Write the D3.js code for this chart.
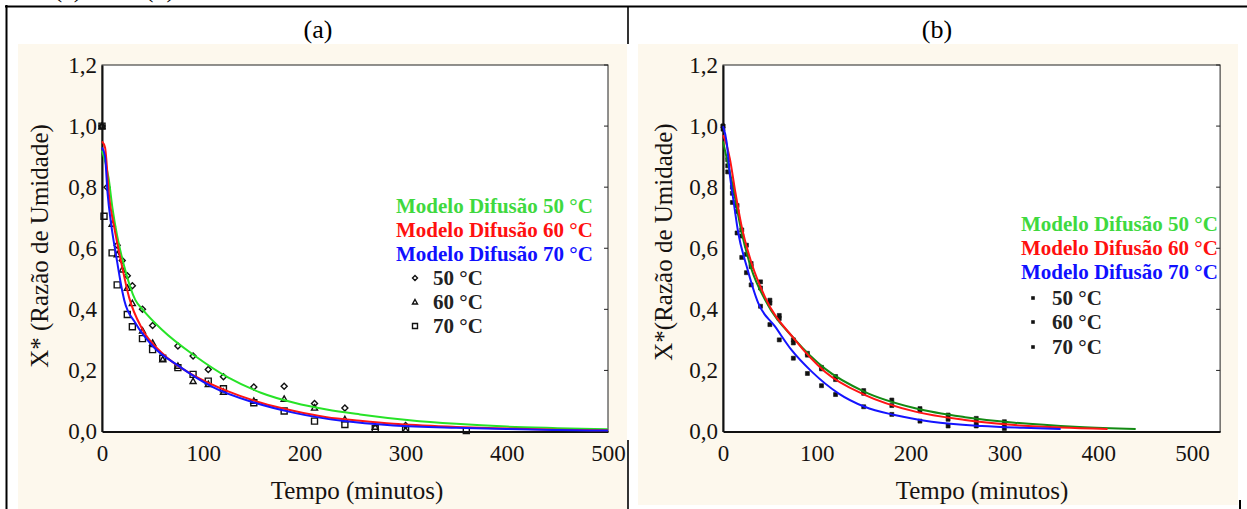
<!DOCTYPE html>
<html>
<head>
<meta charset="utf-8">
<script src="https://cdn.jsdelivr.net/npm/d3@7/dist/d3.min.js"></script>
<style>
  html, body { margin: 0; padding: 0; background: #fff; }
  svg { display: block; }
  text { font-family: "Liberation Serif", "Times New Roman", serif; }
</style>
</head>
<body>
<script>
// ---- Drying kinetics: moisture ratio X* vs time, two experiments (a) and (b) ----

const xTicks = [0, 100, 200, 300, 400, 500];
const yTicks = [0, 0.2, 0.4, 0.6, 0.8, 1.0, 1.2];
const temps = ["50 °C", "60 °C", "70 °C"];
const modelLabels = ["Modelo Difusão 50 °C", "Modelo Difusão 60 °C", "Modelo Difusão 70 °C"];

// (a) diffusion model curves [time (min), X*]
const aModel50 = [[0,0.92],[6.5,0.83],[10.4,0.73],[15,0.64],[22,0.54],[33,0.43],[40,0.40],[59,0.334],[92,0.247],[125,0.176],[157,0.127],[190,0.094],[222,0.072],[255,0.056],[304,0.037],[350,0.025],[400,0.016],[450,0.011],[500,0.007]];
const aModel60 = [[0,0.95],[3,0.93],[7,0.77],[12,0.67],[18.6,0.56],[26.7,0.44],[40,0.334],[59,0.258],[92,0.181],[124,0.132],[157,0.094],[190,0.067],[222,0.047],[255,0.035],[288,0.025],[350,0.015],[400,0.010],[450,0.006],[500,0.004]];
const aModel70 = [[0,0.93],[3,0.90],[5.5,0.78],[9,0.68],[14,0.575],[20,0.46],[22,0.43],[33,0.355],[50,0.28],[76,0.214],[108,0.148],[151,0.094],[190,0.061],[239,0.034],[288,0.02],[350,0.012],[400,0.008],[450,0.005],[500,0.003]];

// (a) measured points [time (min), X*]
const aObs50 = [[0,1.0],[5,0.80],[15,0.61],[20,0.56],[25,0.51],[30,0.477],[40,0.40],[50,0.347],[75,0.28],[90,0.247],[105,0.203],[120,0.179],[150,0.146],[180,0.148],[210,0.092],[240,0.077],[300,0.02]];
const aObs60 = [[0,1.0],[10,0.68],[15,0.58],[20,0.53],[25,0.47],[30,0.42],[40,0.33],[50,0.29],[60,0.236],[75,0.215],[90,0.165],[105,0.155],[120,0.13],[150,0.10],[180,0.107],[210,0.078],[240,0.04],[270,0.015],[300,0.005]];
const aObs70 = [[0,1.0],[2,0.705],[10,0.585],[15,0.48],[25,0.383],[30,0.343],[40,0.304],[50,0.268],[60,0.24],[75,0.209],[90,0.187],[105,0.165],[120,0.14],[150,0.094],[180,0.067],[210,0.034],[240,0.023],[270,0.009],[300,0.007],[360,0.003]];

// (b) diffusion model curves
const bModel50 = [[0,0.95],[5,0.88],[10,0.81],[20,0.65],[30,0.535],[45,0.43],[77,0.30],[109,0.205],[151,0.13],[205,0.076],[258,0.047],[311,0.029],[380,0.015],[440,0.008]];
const bModel60 = [[0,0.97],[2,0.956],[7.5,0.89],[12.8,0.79],[20,0.67],[30.6,0.55],[44.8,0.44],[76.8,0.30],[108.7,0.196],[151,0.12],[205,0.065],[258,0.038],[311,0.021],[360,0.013],[410,0.008]];
const bModel70 = [[0,1.0],[4,0.945],[7.5,0.835],[11,0.76],[16.3,0.65],[25.3,0.54],[37.6,0.42],[55.4,0.344],[73,0.267],[94.6,0.196],[123,0.125],[151,0.081],[183,0.054],[222.5,0.032],[276,0.018],[320,0.012],[360,0.008]];

// (b) measured points
const bObs50 = [[0,1.0],[5,0.87],[10,0.80],[15,0.72],[20,0.64],[25,0.58],[30,0.54],[40,0.47],[50,0.42],[60,0.38],[75,0.30],[90,0.256],[105,0.21],[120,0.18],[150,0.134],[180,0.103],[210,0.075],[240,0.054],[270,0.043],[300,0.032]];
const bObs60 = [[0,1.0],[5,0.89],[10,0.78],[15,0.74],[20,0.66],[25,0.61],[30,0.55],[40,0.49],[50,0.43],[60,0.37],[75,0.29],[90,0.25],[105,0.205],[120,0.17],[150,0.125],[180,0.085],[210,0.068],[240,0.04],[270,0.03],[300,0.02]];
const bObs70 = [[0,0.99],[5,0.85],[10,0.75],[15,0.65],[20,0.57],[25,0.52],[30,0.48],[40,0.41],[50,0.35],[60,0.30],[75,0.24],[90,0.19],[105,0.15],[120,0.121],[150,0.081],[180,0.056],[210,0.034],[240,0.018],[270,0.018],[300,0.01]];

const W = 1247, H = 509;
const svg = d3.select("body").append("svg").attr("width", W).attr("height", H);
const cream = "#fdf8ed";
const ink = "#161210";

svg.append("rect").attr("width", W).attr("height", H).attr("fill", "#fff");

// caption fragments from the line above the table
svg.append("text").attr("x", 68).attr("y", -3).attr("text-anchor", "middle")
  .attr("font-size", 26).attr("fill", "#000").text("(a)");
svg.append("text").attr("x", 160).attr("y", -3).attr("text-anchor", "middle")
  .attr("font-size", 26).attr("fill", "#000").text("(b)");

// panel backgrounds
svg.append("rect").attr("x", 18).attr("y", 44).attr("width", 609).attr("height", 465).attr("fill", cream);
svg.append("rect").attr("x", 638).attr("y", 44).attr("width", 600).attr("height", 461).attr("fill", cream);

// table rules
const rule = (x1, y1, x2, y2, w) => svg.append("line")
  .attr("x1", x1).attr("y1", y1).attr("x2", x2).attr("y2", y2)
  .attr("stroke", "#000").attr("stroke-width", w);
rule(5, 6.5, W, 6.5, 2);
rule(6.5, 5, 6.5, H, 2);
rule(628, 6, 628, 44, 1.6);
rule(628, 440, 628, H, 1.6);
rule(1240, 500, 1240, H, 2);

// column headers
svg.append("text").attr("x", 318).attr("y", 38).attr("text-anchor", "middle")
  .attr("font-size", 26).attr("fill", "#000").text("(a)");
svg.append("text").attr("x", 937).attr("y", 38).attr("text-anchor", "middle")
  .attr("font-size", 26).attr("fill", "#000").text("(b)");

function symbolPath(kind, cx, cy, s) {
  const h = s / 2;
  if (kind === "diamond") return `M${cx},${cy - h}L${cx + h},${cy}L${cx},${cy + h}L${cx - h},${cy}Z`;
  if (kind === "triangle") return `M${cx},${cy - h}L${cx + h},${cy + h * 0.8}L${cx - h},${cy + h * 0.8}Z`;
  return `M${cx - h},${cy - h}h${s}v${s}h${-s}Z`;
}

function drawPanel(cfg) {
  const g = svg.append("g");
  const x = d3.scaleLinear().domain(cfg.xDomain).range(cfg.xRange);
  const y = d3.scaleLinear().domain([0, 1.2]).range([431.5, 65]);

  // plot area
  g.append("rect").attr("x", x(0)).attr("y", y(1.2))
    .attr("width", x(cfg.xDomain[1]) - x(0)).attr("height", y(0) - y(1.2))
    .attr("fill", "#fff").attr("stroke", "#222").attr("stroke-width", 1);

  // right-side inner ticks
  g.append("g").selectAll("line").data(yTicks).join("line")
    .attr("x1", x(cfg.xDomain[1]) - 4).attr("x2", x(cfg.xDomain[1]))
    .attr("y1", d => y(d)).attr("y2", d => y(d))
    .attr("stroke", "#222");

  const fmt = d => d3.format(".1f")(d).replace(".", ",");
  const yAxis = g.append("g").attr("transform", `translate(${x(0)},0)`)
    .call(d3.axisLeft(y).tickValues(yTicks).tickSize(0).tickPadding(5).tickFormat(fmt));
  const xAxis = g.append("g").attr("transform", `translate(0,${y(0)})`)
    .call(d3.axisBottom(x).tickValues(xTicks).tickSize(0).tickPadding(13).tickFormat(d3.format("d")));
  [yAxis, xAxis].forEach(a => {
    a.select(".domain").attr("stroke", "#111").attr("stroke-width", 2);
    a.selectAll("text").attr("font-size", 23).attr("fill", ink)
      .attr("font-family", "'Liberation Serif', serif");
  });

  // axis titles
  g.append("text").attr("x", cfg.xTitleX).attr("y", 499).attr("text-anchor", "middle")
    .attr("font-size", 25).attr("fill", ink).text("Tempo (minutos)");
  g.append("text").attr("transform", `translate(${cfg.yTitleX},${cfg.yTitleY}) rotate(-90)`)
    .attr("text-anchor", "middle").attr("font-size", 25).attr("fill", ink).text(cfg.yTitle);

  // measured points
  cfg.obs.forEach((series, i) => {
    g.append("g").selectAll("path").data(series).join("path")
      .attr("d", d => symbolPath(cfg.markers[i], x(d[0]), y(d[1]), cfg.markerSize))
      .attr("fill", cfg.markerFill).attr("stroke", "#111").attr("stroke-width", cfg.markerStroke);
  });

  // model curves
  const line = d3.line().x(d => x(d[0])).y(d => y(d[1])).curve(d3.curveMonotoneX);
  cfg.models.forEach((series, i) => {
    g.append("path").datum(series).attr("d", line)
      .attr("fill", "none").attr("stroke", cfg.curveColors[i]).attr("stroke-width", 2);
  });

  // legend
  const lg = g.append("g");
  modelLabels.forEach((t, i) => {
    lg.append("text").attr("x", cfg.legX).attr("y", cfg.legY[i])
      .attr("font-size", 21).attr("font-weight", "bold").attr("fill", cfg.textColors[i]).text(t);
  });
  temps.forEach((t, i) => {
    const yy = cfg.legY[3 + i];
    lg.append("path").attr("d", symbolPath(cfg.markers[i], cfg.legMarkX, yy - 7, cfg.legMarkSize))
      .attr("fill", cfg.markerFill).attr("stroke", "#111").attr("stroke-width", cfg.markerStroke);
    lg.append("text").attr("x", cfg.legTextX).attr("y", yy)
      .attr("font-size", 21).attr("font-weight", "bold").attr("fill", "#222").text(t);
  });
}

drawPanel({
  xDomain: [0, 500], xRange: [102, 608],
  xTitleX: 357, yTitleX: 48, yTitleY: 246, yTitle: "X* (Razão de Umidade)",
  obs: [aObs50, aObs60, aObs70],
  models: [aModel50, aModel60, aModel70],
  markers: ["diamond", "triangle", "square"],
  markerSize: 6, markerFill: "none", markerStroke: 1.4,
  curveColors: ["#27e327", "#ff1414", "#1414ff"],
  textColors: ["#3fd93f", "#ff1010", "#1010ff"],
  legX: 396, legY: [213, 237, 261, 285, 309, 333],
  legMarkX: 415, legMarkSize: 5, legTextX: 433
});

drawPanel({
  xDomain: [0, 530], xRange: [723, 1220.1],
  xTitleX: 982, yTitleX: 672, yTitleY: 242, yTitle: "X*(Razão de Umidade)",
  obs: [bObs50, bObs60, bObs70],
  models: [bModel50, bModel60, bModel70],
  markers: ["square", "square", "square"],
  markerSize: 4, markerFill: "#111", markerStroke: 0.6,
  curveColors: ["#138a13", "#ff1414", "#1414ff"],
  textColors: ["#3fd93f", "#ff1010", "#1010ff"],
  legX: 1021, legY: [231, 255, 279, 305, 329, 354],
  legMarkX: 1033, legMarkSize: 3, legTextX: 1052
});
</script>
</body>
</html>
